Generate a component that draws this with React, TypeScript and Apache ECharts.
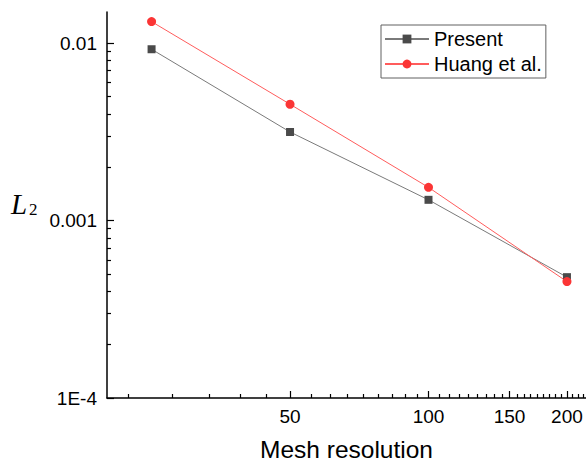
import React, { useEffect, useRef } from "react";
import * as echarts from "echarts";

// Mesh resolutions and L2 errors
const meshSizes = [25, 50, 100, 200];
const presentL2 = [0.00925, 0.00316, 0.00131, 0.00048];
const huangL2 = [0.01324, 0.00453, 0.00154, 0.000453];

// Axis ranges and ticks
const xMin = 20;
const xMax = 220;
const xMajorTicks = [50, 100, 150, 200];
const xTickLabels = ["50", "100", "150", "200"];
const xMinorStep = 50 / 9;

const yMin = 1e-4;
const yMax = 0.015;
const yMajorTicks = [1e-4, 1e-3, 1e-2];
const yTickLabels = ["1E-4", "0.001", "0.01"];
const yMinorMultipliers = [2, 3, 4, 5, 6, 7, 8, 9];

const FONT = '"Liberation Sans", Arial, sans-serif';
const SERIF = '"Liberation Serif", "Times New Roman", serif';

function buildXMinor(): number[] {
  const out: number[] = [];
  const starts = [0, ...xMajorTicks];
  for (let i = 0; i < xMajorTicks.length + 1; i++) {
    const base = i === 0 ? xMajorTicks[0] : starts[i];
    for (let k = 1; k <= 8; k++) {
      const v = i === 0 ? base - k * xMinorStep : base + k * xMinorStep;
      if (v > xMin && v < xMax && !xMajorTicks.some((m) => Math.abs(m - v) < 1e-6)) out.push(v);
    }
  }
  return out.sort((a, b) => a - b);
}

function buildYMinor(): number[] {
  const out: number[] = [];
  yMajorTicks.forEach((d) => {
    yMinorMultipliers.forEach((m) => {
      const v = d * m;
      if (v > yMin && v < yMax) out.push(v);
    });
  });
  return out;
}

function labelFor(values: number[], labels: string[], v: number): string {
  for (let i = 0; i < values.length; i++) {
    if (Math.abs(Math.log10(values[i]) - Math.log10(v)) < 1e-6) return labels[i];
  }
  return "";
}

export default function App() {
  const ref = useRef<HTMLDivElement>(null);

  useEffect(() => {
    if (!ref.current) return;
    const chart = echarts.init(ref.current, undefined, { renderer: "svg" });

    const axisLineStyle = { color: "#000", width: 1.5 };

    chart.setOption({
      animation: false,
      backgroundColor: "#fff",
      grid: {
        left: 107,
        right: 0,
        top: 12,
        bottom: 65,
        containLabel: false,
        outerBoundsMode: "none",
      },
      legend: {
        orient: "vertical",
        left: 381,
        top: 25,
        padding: [4, 4, 4, 3],
        itemWidth: 44,
        itemHeight: 11,
        itemGap: 5,
        borderColor: "#606060",
        borderWidth: 1,
        textStyle: { fontFamily: FONT, fontSize: 20, color: "#000", lineHeight: 20 },
        data: ["Present", "Huang et al."],
      },
      xAxis: [
        {
          type: "log",
          min: xMin,
          max: xMax,
          position: "bottom",
          axisLine: { show: true, lineStyle: axisLineStyle },
          axisTick: { show: true, inside: true, length: 7, customValues: xMajorTicks, lineStyle: { color: "#000", width: 1.2 } },
          axisLabel: {
            customValues: xMajorTicks,
            margin: 9,
            fontFamily: FONT,
            fontSize: 19,
            color: "#000",
            formatter: (v: number) => labelFor(xMajorTicks, xTickLabels, v),
          },
          splitLine: { show: false },
          minorTick: { show: false },
          name: "Mesh resolution",
          nameLocation: "middle",
          nameGap: 39,
          nameTextStyle: { fontFamily: FONT, fontSize: 24.5, color: "#000" },
        },
        {
          type: "log",
          min: xMin,
          max: xMax,
          position: "bottom",
          offset: 0,
          axisLine: { show: false },
          axisTick: { show: true, inside: true, length: 4, customValues: buildXMinor(), lineStyle: { color: "#000", width: 1.2 } },
          axisLabel: { show: false },
          splitLine: { show: false },
        },
      ],
      yAxis: [
        {
          type: "log",
          min: yMin,
          max: yMax,
          position: "left",
          axisLine: { show: true, lineStyle: axisLineStyle },
          axisTick: { show: true, inside: true, length: 7, customValues: yMajorTicks, lineStyle: { color: "#000", width: 1.2 } },
          axisLabel: {
            customValues: yMajorTicks,
            margin: 10,
            fontFamily: FONT,
            fontSize: 19,
            color: "#000",
            formatter: (v: number) => labelFor(yMajorTicks, yTickLabels, v),
          },
          splitLine: { show: false },
          minorTick: { show: false },
        },
        {
          type: "log",
          min: yMin,
          max: yMax,
          position: "left",
          offset: 0,
          axisLine: { show: false },
          axisTick: { show: true, inside: true, length: 4, customValues: buildYMinor(), lineStyle: { color: "#000", width: 1.2 } },
          axisLabel: { show: false },
          splitLine: { show: false },
        },
      ],
      graphic: [
        {
          type: "text",
          x: 11,
          y: 204,
          style: { text: "L", font: "italic 29px " + SERIF, fill: "#000", textAlign: "left", textVerticalAlign: "middle" },
        },
        {
          type: "text",
          x: 29,
          y: 209,
          style: { text: "2", font: "17px " + SERIF, fill: "#000", textAlign: "left", textVerticalAlign: "middle" },
        },
      ],
      series: [
        {
          name: "Present",
          type: "line",
          xAxisIndex: 0,
          yAxisIndex: 0,
          data: meshSizes.map((x, i) => [x, presentL2[i]]),
          symbol: "rect",
          symbolSize: 8,
          itemStyle: { color: "#4a4a4a" },
          lineStyle: { color: "#7a7a7a", width: 1 },
        },
        {
          name: "Huang et al.",
          type: "line",
          xAxisIndex: 0,
          yAxisIndex: 0,
          data: meshSizes.map((x, i) => [x, huangL2[i]]),
          symbol: "circle",
          symbolSize: 9,
          itemStyle: { color: "#fb3535" },
          lineStyle: { color: "#ff5c5c", width: 1 },
        },
      ],
    });

    return () => chart.dispose();
  }, []);

  return (
    <div
      ref={ref}
      style={{ position: "absolute", left: 0, top: 0, width: 586, height: 463, background: "#fff" }}
    />
  );
}
